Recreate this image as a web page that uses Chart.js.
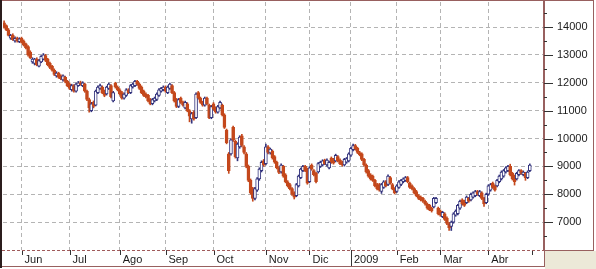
<!DOCTYPE html>
<html>
<head>
<meta charset="utf-8">
<script src="https://cdn.jsdelivr.net/npm/chart.js@4/dist/chart.umd.min.js"></script>
<style>
  html, body { margin: 0; padding: 0; background: #ffffff; }
  #wrap { width: 596px; height: 269px; position: relative; }
</style>
</head>
<body>
<div id="wrap"><canvas id="myChart"></canvas></div>
<script>
// one candle per trading session, May 2008 -> end of April 2009
const opens = [14150,14050,13900,13600,13700,13500,13600,13480,13600,13500,
  13400,13300,13100,12750,12700,12850,12600,12750,12850,12980,
  12850,12700,12600,12450,12250,12350,12250,12100,12200,12050,
  11950,11750,11900,11700,11900,12000,11900,11950,11700,11400,
  11000,11300,11200,11650,11800,11850,11700,11600,11800,11900,
  11350,11980,11850,11750,11650,11450,11550,11750,11650,11850,
  11900,12050,11950,11850,11700,11600,11550,11400,11250,11350,
  11400,11550,11700,11750,11850,11650,11800,11900,11650,11400,
  11150,11450,11300,11100,11250,11000,10700,10950,10750,11650,
  11450,11300,11200,11450,11200,10750,11250,11100,10950,11100,
  11200,10850,10300,9450,9450,10400,9900,9300,9700,10100,
  9700,9450,9000,8500,8200,7850,8150,8550,8850,9200,
  9100,9700,9480,9550,9350,9150,8950,8800,9000,8700,
  8450,8350,8200,8050,7950,8300,8600,8850,9000,8900,
  8450,9050,8850,8750,8800,9000,9050,9220,9050,8950,
  9300,9250,9200,9350,9230,9150,9050,9150,9200,9400,
  9600,9750,9650,9500,9450,9250,9050,8850,8700,8650,
  8500,8350,8350,8100,8250,8450,8350,8600,8350,8200,
  8100,8250,8350,8450,8500,8600,8400,8300,8200,8100,
  7950,7900,7850,7750,7650,7600,7500,7550,7700,7500,
  7400,7200,7300,7150,6950,6850,7000,7250,7300,7500,
  7800,7750,7700,7850,7800,7900,7950,8100,7950,8050,
  7850,7700,8000,8150,8400,8300,8300,8450,8550,8650,
  8800,8850,9000,8750,8650,8550,8700,8850,8700,8750,
  8600,8850];
const highs = [14220,14080,13950,13740,13760,13650,13640,13620,13640,13540,
  13430,13340,13150,12900,12880,12900,12840,12980,13050,13020,
  12880,12740,12630,12500,12400,12380,12290,12290,12240,12090,
  12000,11950,11940,11990,12050,12060,12040,11990,11740,11450,
  11300,11350,11740,11890,11950,11890,11740,11880,11990,11940,
  11690,12020,11890,11790,11690,11640,11790,11790,11940,11990,
  12090,12090,11990,11890,11740,11640,11590,11440,11440,11490,
  11640,11790,11840,11890,11890,11890,11990,11940,11690,11440,
  11440,11490,11340,11340,11290,11040,10940,10990,11640,11690,
  11490,11340,11490,11490,11240,11190,11290,11140,11190,11340,
  11240,10890,10340,9500,9990,10450,9950,9850,10100,10150,
  9750,9500,9050,8550,8250,8250,8600,8950,9200,9250,
  9800,9750,9660,9590,9390,9190,8990,9090,9040,8740,
  8490,8390,8240,8090,8390,8690,8940,9040,9040,8940,
  8990,9090,8890,8790,9140,9190,9240,9260,9270,9190,
  9340,9290,9440,9390,9270,9190,9290,9320,9490,9690,
  9800,9790,9690,9540,9490,9290,9090,8890,8740,8690,
  8540,8390,8390,8390,8490,8490,8700,8640,8390,8240,
  8340,8490,8540,8590,8640,8640,8440,8340,8240,8140,
  7990,7940,7890,7790,7690,7640,7540,7890,7890,7540,
  7440,7390,7340,7190,6990,7040,7340,7440,7640,7790,
  7840,7790,7940,7890,8040,8090,8140,8140,8140,8090,
  7890,8040,8340,8390,8440,8340,8540,8690,8840,8890,
  8990,9040,9080,8790,8690,8790,8890,8890,8840,8790,
  8840,9090];
const lows = [13960,13870,13680,13560,13520,13460,13460,13440,13420,13320,
  13220,12960,12870,12700,12640,12610,12570,12720,12820,12760,
  12610,12510,12420,12260,12200,12160,12110,12060,12000,11860,
  11760,11700,11660,11660,11870,11910,11860,11660,11360,10950,
  10960,11100,11170,11610,11760,11610,11500,11560,11760,11460,
  11310,11810,11710,11560,11410,11410,11510,11610,11610,11810,
  11860,11910,11760,11610,11510,11460,11310,11210,11210,11310,
  11360,11510,11660,11710,11660,11610,11760,11610,11310,11110,
  11110,11260,11160,11060,10960,10600,10550,10660,10710,11410,
  11260,11160,11160,11210,10710,10710,11010,10910,10910,11060,
  10810,10360,9810,8750,9400,9900,9300,9200,9650,9700,
  9450,8950,8450,8000,7750,7800,8100,8500,8800,9000,
  9050,9450,9440,9260,9110,8910,8740,8760,8610,8410,
  8260,8160,7960,7830,7910,8260,8560,8810,8810,8360,
  8410,8860,8660,8410,8760,8960,9010,9060,9010,8910,
  9110,9080,9160,9160,9060,9010,9010,9110,9160,9360,
  9560,9580,9460,9380,9210,9010,8760,8610,8510,8460,
  8260,8160,8110,8030,8210,8260,8310,8360,8160,8010,
  8060,8210,8310,8410,8460,8410,8210,8160,8010,7910,
  7810,7760,7710,7610,7460,7410,7360,7510,7660,7260,
  7210,7160,7060,6910,6700,6700,6960,7210,7260,7460,
  7610,7560,7660,7710,7760,7860,7910,7960,7910,7810,
  7560,7660,7960,8110,8210,8110,8260,8410,8510,8610,
  8760,8810,8660,8510,8330,8510,8660,8710,8660,8500,
  8560,8810];
const closes = [14000,13900,13700,13700,13550,13600,13500,13580,13450,13350,
  13250,13000,12900,12850,12850,12650,12800,12950,13000,12800,
  12650,12550,12450,12300,12350,12200,12150,12250,12050,11900,
  11800,11900,11700,11950,12000,11950,12000,11700,11400,11100,
  11250,11150,11700,11850,11900,11650,11550,11850,11950,11500,
  11650,11850,11750,11600,11450,11600,11750,11650,11900,11950,
  12050,11950,11800,11650,11550,11500,11350,11250,11400,11450,
  11600,11750,11800,11850,11700,11850,11950,11650,11350,11150,
  11400,11300,11200,11300,11000,10800,10900,10700,11600,11450,
  11300,11200,11450,11250,10750,11150,11050,10950,11150,11300,
  10850,10400,9850,8850,9950,9950,9350,9800,10050,9750,
  9500,9000,8500,8050,7850,8200,8550,8900,9150,9050,
  9700,9500,9620,9300,9150,8950,8780,9050,8650,8450,
  8300,8200,8000,7900,8350,8650,8900,9000,8850,8400,
  8950,8900,8700,8450,9100,9150,9200,9100,9230,9150,
  9150,9120,9400,9200,9100,9050,9250,9280,9450,9650,
  9750,9620,9500,9420,9250,9050,8800,8650,8550,8500,
  8300,8200,8150,8350,8450,8300,8650,8400,8200,8050,
  8300,8450,8500,8550,8600,8450,8250,8200,8050,7950,
  7850,7800,7750,7650,7500,7450,7400,7850,7850,7300,
  7250,7350,7100,6950,6800,7000,7300,7400,7600,7750,
  7650,7600,7900,7750,8000,8050,8100,8000,8100,7850,
  7650,8000,8300,8350,8250,8150,8500,8650,8800,8850,
  8950,9000,8700,8550,8450,8750,8850,8750,8800,8600,
  8800,9050];

// x axis: session index where each month starts, and its label
const monthStarts = [8, 30, 53, 74, 96, 120, 140, 159, 180, 200, 222, 242];
const monthNames = ["Jun", "Jul", "Ago", "Sep", "Oct", "Nov", "Dic", "2009", "Feb", "Mar", "Abr", ""];
const sessionCount = 248;

// y axis ticks (labels on the thousands, small marks on the halves)
const yTicks = [6500, 7000, 7500, 8000, 8500, 9000, 9500, 10000, 10500, 11000, 11500, 12000, 12500, 13000, 13500, 14000, 14500];

const upColor = "#34347e";
const downColor = "#c4481c";

const xLabels = new Array(sessionCount).fill("");
monthStarts.forEach((idx, k) => { xLabels[idx] = monthNames[k]; });

const isUp = i => closes[i] >= opens[i];

const frame = {
    id: "frame",
    beforeDraw(chart) {
        const c = chart.ctx;
        c.save();
        c.fillStyle = "#ece9d8";
        c.fillRect(545, 251, 51, 18);
        c.restore();
    },
    afterDraw(chart) {
        const c = chart.ctx;
        const a = chart.chartArea;
        const x = chart.scales.x;
        const y = chart.scales.y;
        c.save();
        c.lineWidth = 1;
        c.strokeStyle = "#333333";
        // y tick marks
        yTicks.forEach(v => {
            const py = Math.round(y.getPixelForValue(v)) + 0.5;
            const len = v % 1000 === 0 ? 9 : 3;
            c.beginPath();
            c.moveTo(a.right, py);
            c.lineTo(a.right + len, py);
            c.stroke();
        });
        // x tick marks
        monthStarts.forEach((idx, k) => {
            const px = Math.round(x.getPixelForValue(idx)) + 0.5;
            const len = monthNames[k] === "2009" ? 16 : 5;
            c.beginPath();
            c.moveTo(px, a.bottom);
            c.lineTo(px, a.bottom + len);
            c.stroke();
        });
        // dashed bottom of the plot
        c.strokeStyle = "#a05a5a";
        c.setLineDash([3, 2]);
        c.beginPath();
        c.moveTo(2, 250.5);
        c.lineTo(545, 250.5);
        c.stroke();
        c.setLineDash([]);
        // frame lines
        c.strokeStyle = "#98605f";
        c.beginPath();
        c.moveTo(0, 266.5); c.lineTo(545, 266.5);
        c.moveTo(544.5, 250); c.lineTo(544.5, 267);
        c.moveTo(544, 250.5); c.lineTo(594, 250.5);
        c.moveTo(593.5, 0); c.lineTo(593.5, 251);
        c.moveTo(0, 0.5); c.lineTo(594, 0.5);
        c.stroke();
        c.fillStyle = "#2b1d1d";
        c.fillRect(0, 0, 2, 268);
        c.restore();
    }
};

Chart.defaults.font.family = "'Liberation Sans', Arial, sans-serif";
Chart.defaults.font.size = 11;
Chart.defaults.color = "#1a1a1a";

new Chart("myChart", {
    type: "bar",
    data: {
        labels: xLabels,
        datasets: [{
            label: "body",
            data: opens.map((o, i) => [o, closes[i]]),
            backgroundColor: ctx => isUp(ctx.dataIndex) ? "#ffffff" : downColor,
            borderColor: ctx => isUp(ctx.dataIndex) ? upColor : downColor,
            borderWidth: 1,
            borderSkipped: false,
            barThickness: 3,
            grouped: false,
            order: 0
        }, {
            label: "wick",
            data: lows.map((l, i) => [l, highs[i]]),
            backgroundColor: ctx => isUp(ctx.dataIndex) ? upColor : downColor,
            borderWidth: 0,
            barThickness: 1,
            grouped: false,
            order: 1
        }]
    },
    options: {
        responsive: true,
        maintainAspectRatio: false,
        animation: false,
        layout: { padding: { left: 3, top: 2, right: 0, bottom: 0 } },
        plugins: {
            legend: { display: false },
            tooltip: { enabled: false }
        },
        scales: {
            x: {
                offset: true,
                grid: {
                    offset: false,
                    drawTicks: false,
                    color: ctx => {
                        const k = monthStarts.indexOf(ctx.index);
                        return k >= 0 && monthNames[k] !== "" ? "#b4b4b4" : "rgba(0,0,0,0)";
                    }
                },
                border: { display: false, dash: [4, 3] },
                ticks: {
                    autoSkip: false,
                    maxRotation: 0,
                    minRotation: 0,
                    align: "start",
                    labelOffset: 3,
                    padding: 3
                },
                afterFit: s => { s.height = 19; s.paddingLeft = 0; s.paddingRight = 0; }
            },
            y: {
                position: "right",
                min: 6000,
                max: 14900,
                afterBuildTicks: s => { s.ticks = yTicks.map(v => ({ value: v })); },
                grid: {
                    drawTicks: false,
                    color: ctx => ctx.tick && ctx.tick.value % 1000 === 0 ? "#b4b4b4" : "rgba(0,0,0,0)"
                },
                border: { display: true, color: "#98605f", width: 2, dash: [4, 3] },
                ticks: {
                    autoSkip: false,
                    padding: 13,
                    callback: v => v % 1000 === 0 ? String(v) : ""
                },
                afterFit: s => { s.width = 52; s.paddingTop = 0; s.paddingBottom = 0; }
            }
        }
    },
    plugins: [frame]
});
</script>
</body>
</html>
